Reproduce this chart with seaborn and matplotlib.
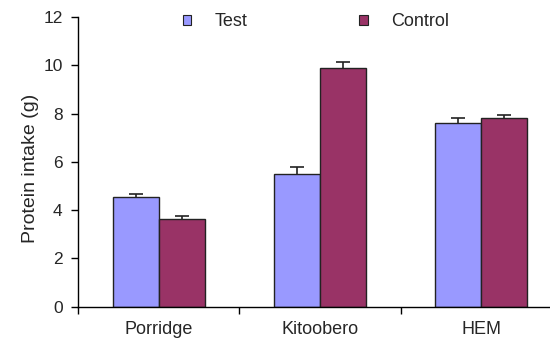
import matplotlib
matplotlib.use("Agg")
import matplotlib.pyplot as plt
import seaborn as sns
import pandas as pd
import numpy as np
from matplotlib.patches import Patch

categories = ["Porridge", "Kitoobero", "HEM"]
groups = ["Test", "Control"]
test_values = [4.55, 5.48, 7.59]
control_values = [3.64, 9.89, 7.81]
test_errors = [0.10, 0.31, 0.22]
control_errors = [0.10, 0.26, 0.15]
colors = {"Test": "#9999FF", "Control": "#993366"}

sns.set_style("white")
plt.rcParams["font.family"] = ["Liberation Sans", "DejaVu Sans"]

df = pd.DataFrame({
    "Food": categories * 2,
    "Group": ["Test"] * 3 + ["Control"] * 3,
    "Protein": test_values + control_values,
})

fig = plt.figure(figsize=(5.5, 3.38), dpi=100)
ax = fig.add_axes([0.1418, 0.0927, 0.88, 0.857])

sns.barplot(data=df, x="Food", y="Protein", hue="Group", order=categories,
            hue_order=groups, palette=colors, width=0.57, gap=0,
            edgecolor="#222222", linewidth=1.0, errorbar=None, ax=ax,
            saturation=1, legend=False)

# error bars (upper only), positioned from bar patches
bars = [p for p in ax.patches]
errs = np.array(test_errors + control_errors)
vals = np.array(test_values + control_values)
xs = np.array([b.get_x() + b.get_width() / 2 for b in bars[:6]])
ax.vlines(xs, vals, vals + errs, colors="#222222", linewidth=1.2, zorder=5)
ax.scatter(xs, vals + errs, marker="_", s=100, color="#222222", linewidths=1.2, zorder=5)

ax.set_xlim(-0.5, 2.5)
ax.set_ylim(0, 12)
ax.set_yticks([0, 2, 4, 6, 8, 10, 12])
ax.tick_params(axis="y", labelsize=12.5, length=5, width=1, color="black", pad=6, left=True, direction="out")
ax.set_xticks([0, 1, 2])
ax.set_xticklabels(categories)
ax.tick_params(axis="x", which="major", length=0, labelsize=13, pad=10)
ax.set_xticks([-0.5, 0.5, 1.5, 2.5], minor=True)
ax.tick_params(axis="x", which="minor", length=5, width=1, color="black", bottom=True, direction="out")

for s in ["top", "right"]:
    ax.spines[s].set_visible(False)
for s in ["left", "bottom"]:
    ax.spines[s].set_color("black")
    ax.spines[s].set_linewidth(1.0)

ax.set_xlabel("")
ax.set_ylabel("Protein intake (g)", fontsize=14)
ax.yaxis.set_label_coords(-0.08, 0.479)

handles = [Patch(facecolor=colors[g], edgecolor="#222222", linewidth=0.8, label=g) for g in groups]
fig.legend(handles=handles, loc="center", bbox_to_anchor=(316 / 550, 1 - 22 / 338), ncol=2,
           frameon=False, fontsize=13, handlelength=0.45, handleheight=0.45,
           handletextpad=1.3, columnspacing=6.2)

fig.savefig("out.png", dpi=100)
